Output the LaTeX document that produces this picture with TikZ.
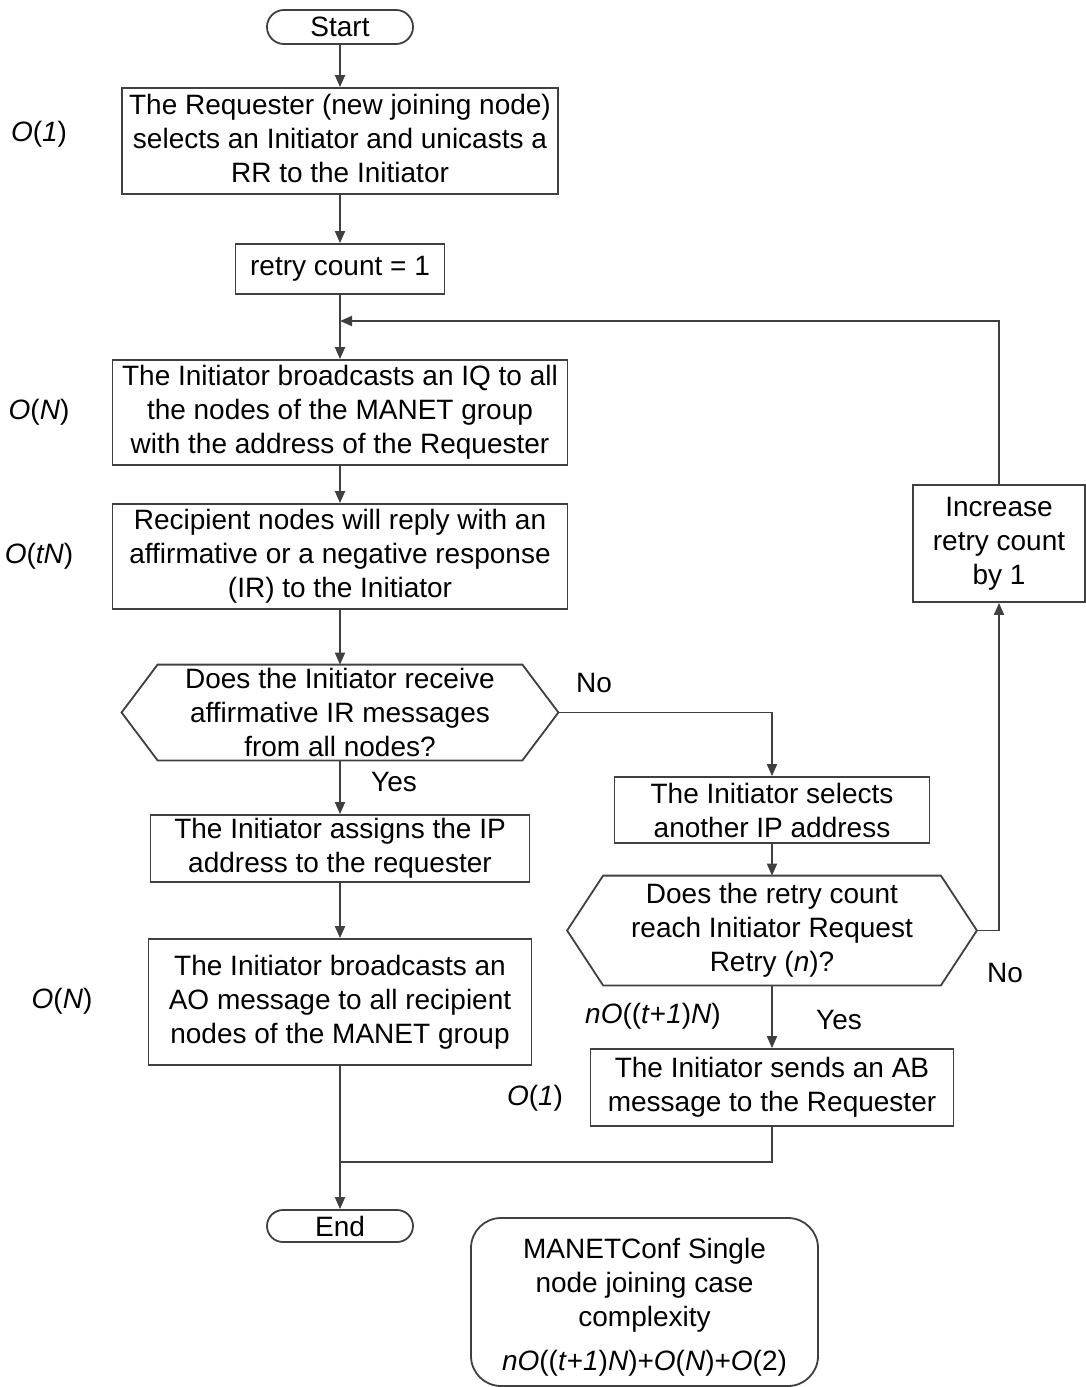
\documentclass[tikz,border=0pt]{standalone}
\usepackage{fontspec}
\setmainfont{Liberation Sans}
\usetikzlibrary{arrows.meta,shapes.misc}
\definecolor{lc}{gray}{0.25}
\begin{document}
\begin{tikzpicture}[x=0.5pt,y=-0.5pt,
  font=\fontsize{14pt}{17pt}\selectfont,
  box/.style={rectangle,draw=lc,line width=0.9pt,align=center,inner sep=0pt,fill=white},
  term/.style={rounded rectangle,draw=lc,line width=0.9pt,align=center,inner sep=0pt},
  hexin/.style={rectangle,align=center,inner sep=0pt},
  ln/.style={draw=lc,line width=0.9pt},
  arr/.style={ln,-{Triangle[length=6pt,width=5pt]}},
  lbl/.style={inner sep=0pt}]
\useasboundingbox (0,0) rectangle (1086,1387);

\node[term,minimum width=73pt,minimum height=17pt] (start) at (340,27) {Start};
\node[box,minimum width=218pt,minimum height=53pt] (req) at (340,141) {};
\node[lbl,align=center] (reqtxt) at (340,138)
  {The Requester (new joining node)\\selects an Initiator and unicasts a\\RR to the Initiator};
\node[box,minimum width=104.5pt,minimum height=25pt] (retry) at (340,269) {retry count = 1};
\coordinate (merge) at (340,321);
\node[box,minimum width=227.5pt,minimum height=52.5pt] (iq) at (340,412.5)
  {The Initiator broadcasts an IQ to all\\the nodes of the MANET group\\with the address of the Requester};
\node[box,minimum width=227.5pt,minimum height=52.5pt] (ir) at (340,556.5)
  {Recipient nodes will reply with an\\affirmative or a negative response\\(IR) to the Initiator};
\node[hexin,minimum width=182pt,minimum height=47.5pt] (h1) at (340,712.5)
  {Does the Initiator receive\\affirmative IR messages\\from all nodes?};
\coordinate (h1r) at ([xshift=18pt]h1.east);
\coordinate (h1l) at ([xshift=-18pt]h1.west);
\draw[ln] (h1.north west) -- (h1.north east) -- (h1r) -- (h1.south east) -- (h1.south west) -- (h1l) -- cycle;
\node[box,minimum width=189.5pt,minimum height=33.5pt] (assign) at (340,848.5)
  {The Initiator assigns the IP\\address to the requester};
\node[box,minimum width=191.5pt,minimum height=63pt] (ao) at (340,1002)
  {The Initiator broadcasts an\\AO message to all recipient\\nodes of the MANET group};
\node[box,minimum width=157.5pt,minimum height=33pt] (sel) at (772,810)
  {The Initiator selects\\another IP address};
\node[hexin,minimum width=168.5pt,minimum height=54.5pt] (h2) at (772,930.5)
  {Does the retry count\\reach Initiator Request\\Retry (\textit{n})?};
\coordinate (h2r) at ([xshift=18pt]h2.east);
\coordinate (h2l) at ([xshift=-18pt]h2.west);
\draw[ln] (h2.north west) -- (h2.north east) -- (h2r) -- (h2.south east) -- (h2.south west) -- (h2l) -- cycle;
\node[box,minimum width=181.5pt,minimum height=38.5pt] (ab) at (772,1087.5)
  {The Initiator sends an AB\\message to the Requester};
\node[box,minimum width=86pt,minimum height=58.5pt] (inc) at (999,543.5)
  {Increase\\retry count\\by 1};
\node[term,minimum width=73pt,minimum height=16pt] (end) at (340,1226) {End};
\node[draw=lc,line width=0.9pt,rounded corners=15pt,minimum width=173.5pt,minimum height=84pt,inner sep=0pt] (sum) at (644.5,1302) {};
\node[lbl,align=center] (sumtxt) at (644.5,1307)
  {MANETConf Single\\node joining case\\complexity\\[5pt]\textit{nO}((\textit{t}+\textit{1})\textit{N})+\textit{O}(\textit{N})+\textit{O}(2)};
\coordinate (join) at (340,1162);

% connectors
\draw[arr] (start) -- (req);
\draw[arr] (req) -- (retry);
\draw[arr] (retry) -- (iq);
\draw[arr] (inc.north) |- (merge);
\draw[arr] (iq) -- (ir);
\draw[arr] (ir) -- (h1.north);
\draw[arr] (h1.south) -- (assign);
\draw[arr] (h1r) -| (sel.north);
\draw[arr] (assign) -- (ao);
\draw[arr] (ao) -- (end);
\draw[arr] (sel) -- (h2.north);
\draw[arr] (h2.south) -- (ab);
\draw[arr] (h2r) -| (inc.south);
\draw[ln] (ab.south) |- (join);

% labels
\node[lbl] (lno1) at (594,683) {No};
\node[lbl] (lyes1) at (394,782) {Yes};
\node[lbl] (lno2) at (1005,973) {No};
\node[lbl] (lyes2) at (839,1020) {Yes};
\node[lbl] (cx1) at (653,1016) {\textit{nO}((\textit{t}+\textit{1})\textit{N})};
\node[lbl] (cx2) at (535,1098) {\textit{O}(\textit{1})};
\node[lbl] (cx3) at (39,134) {\textit{O}(\textit{1})};
\node[lbl] (cx4) at (39,412) {\textit{O}(\textit{N})};
\node[lbl] (cx5) at (39,556) {\textit{O}(\textit{tN})};
\node[lbl] (cx6) at (62,1001) {\textit{O}(\textit{N})};
\end{tikzpicture}
\end{document}
